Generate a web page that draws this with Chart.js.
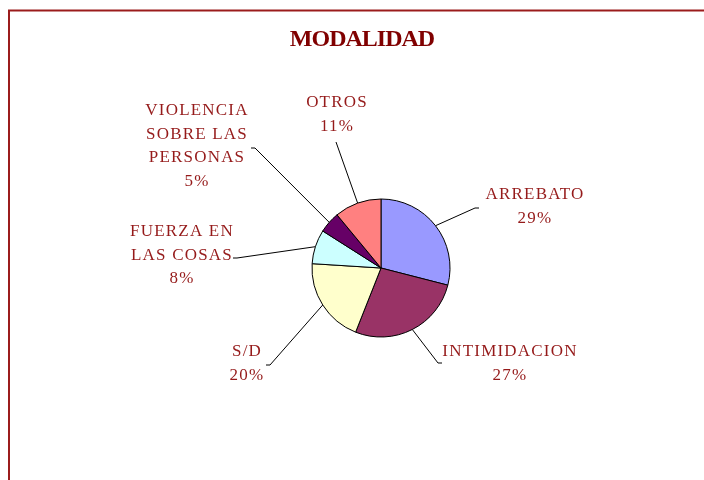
<!DOCTYPE html>
<html>
<head>
<meta charset="utf-8">
<style>
  html, body { margin: 0; padding: 0; background: #fff; }
  #wrap { width: 704px; height: 480px; position: relative; }
</style>
<script src="https://cdn.jsdelivr.net/npm/chart.js@4/dist/chart.umd.min.js"></script>
</head>
<body>
<div id="wrap"><canvas id="pieChart" width="704" height="480"></canvas></div>
<script>
// data
const categories = ['ARREBATO', 'INTIMIDACION', 'S/D', 'FUERZA EN LAS COSAS', 'VIOLENCIA SOBRE LAS PERSONAS', 'OTROS'];
const values = [29, 27, 20, 8, 5, 11];
const labelLines = [
    ['ARREBATO'],
    ['INTIMIDACION'],
    ['S/D'],
    ['FUERZA EN', 'LAS COSAS'],
    ['VIOLENCIA', 'SOBRE LAS', 'PERSONAS'],
    ['OTROS']
];
const sliceColors = ['#9999FF', '#993366', '#FFFFCC', '#CCFFFF', '#660066', '#FF8080'];

// where each label sits, relative to the pie centre (elbow of leader line, text centre, stub direction)
const labelLayout = [
    { ex: 94,   ey: -60,  stub: 4,  tx: 154,  ty: -73 },
    { ex: 57,   ey: 95,   stub: 4,  tx: 129,  ty: 84 },
    { ex: -111, ey: 97,   stub: -4, tx: -134, ty: 84 },
    { ex: -144, ey: -10,  stub: -4, tx: -199, ty: -36 },
    { ex: -126, ey: -120, stub: -4, tx: -184, ty: -157 },
    { ex: -45,  ey: -126, stub: 0,  tx: -44,  ty: -165 }
];

const total = values.reduce((a, b) => a + b, 0);

const framePlugin = {
    id: 'frame',
    beforeDraw(chart) {
        const ctx = chart.ctx;
        ctx.save();
        ctx.fillStyle = '#fff';
        ctx.fillRect(0, 0, chart.width, chart.height);
        ctx.strokeStyle = '#9b1c1c';
        ctx.lineWidth = 2;
        ctx.strokeRect(9, 10.5, 800, 600);
        // title
        ctx.fillStyle = '#800000';
        ctx.font = 'bold 24px "Liberation Serif", "Times New Roman", serif';
        ctx.letterSpacing = '-1px';
        ctx.textAlign = 'center';
        ctx.textBaseline = 'middle';
        ctx.fillText('MODALIDAD', 362, 40);
        ctx.restore();
    }
};

const labelPlugin = {
    id: 'sliceLabels',
    afterDatasetsDraw(chart) {
        const ctx = chart.ctx;
        const arcs = chart.getDatasetMeta(0).data;
        ctx.save();
        arcs.forEach((arc, i) => {
            const p = arc.getProps(['x', 'y', 'startAngle', 'endAngle', 'outerRadius'], true);
            const mid = (p.startAngle + p.endAngle) / 2;
            const sx = p.x + Math.cos(mid) * p.outerRadius;
            const sy = p.y + Math.sin(mid) * p.outerRadius;
            const L = labelLayout[i];
            const exx = p.x + L.ex, eyy = p.y + L.ey;
            ctx.strokeStyle = '#000';
            ctx.lineWidth = 1;
            ctx.beginPath();
            ctx.moveTo(sx, sy);
            ctx.lineTo(exx, eyy);
            if (L.stub) ctx.lineTo(exx + L.stub, eyy);
            ctx.stroke();

            const lines = labelLines[i].concat([Math.round(values[i] / total * 100) + '%']);
            ctx.fillStyle = '#951a1a';
            ctx.font = '17px "Liberation Serif", "Times New Roman", serif';
            ctx.letterSpacing = '1.2px';
            ctx.textAlign = 'center';
            ctx.textBaseline = 'middle';
            lines.forEach((t, k) => {
                ctx.fillText(t, p.x + L.tx, p.y + L.ty + k * 23.5);
            });
        });
        ctx.restore();
    }
};

new Chart(document.getElementById('pieChart'), {
    type: 'pie',
    data: {
        labels: categories,
        datasets: [{
            data: values,
            backgroundColor: sliceColors,
            borderColor: '#000',
            borderWidth: 1
        }]
    },
    options: {
        responsive: false,
        animation: false,
        radius: 69,
        layout: { padding: { left: 281, right: 223, top: 168, bottom: 112 } },
        plugins: {
            legend: { display: false },
            title: { display: false },
            tooltip: { enabled: false }
        }
    },
    plugins: [framePlugin, labelPlugin]
});
</script>
</body>
</html>
